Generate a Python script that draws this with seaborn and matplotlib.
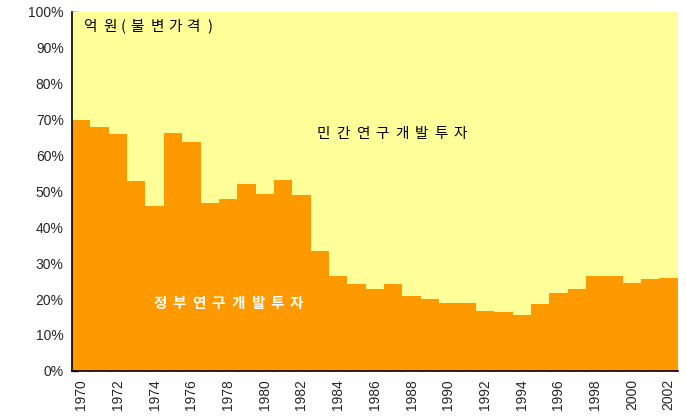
import pandas as pd
import seaborn as sns
import matplotlib.pyplot as plt
from matplotlib.ticker import FixedLocator

# Data (share of government R&D investment, %)
years = list(range(1970, 2003))
gov_share = [69.9, 67.9, 66.0, 52.9, 46.0, 66.2, 63.8, 46.7, 47.8, 52.0,
             49.2, 53.1, 48.9, 33.3, 26.5, 24.2, 22.8, 24.2, 20.9, 20.0,
             18.9, 18.9, 16.7, 16.3, 15.5, 18.7, 21.7, 22.8, 26.5, 26.5,
             24.5, 25.5, 25.9]
private_share = [round(100 - g, 1) for g in gov_share]

df = pd.DataFrame({"year": [str(y) for y in years],
                   "gov": gov_share,
                   "private": private_share})
df["total"] = df["gov"] + df["private"]

sns.set_style("white")
plt.rcParams["font.family"] = ["Liberation Sans", "Noto Sans CJK KR", "DejaVu Sans"]

fig = plt.figure(figsize=(6.86, 4.2), dpi=100)
ax = fig.add_axes([0.105, 0.117, 0.883, 0.855])

# stacked: private on top of government -> draw total then government
sns.barplot(data=df, x="year", y="total", color="#FFFF99", width=1.0,
            saturation=1, edgecolor="none", linewidth=0, ax=ax)
sns.barplot(data=df, x="year", y="gov", color="#FF9900", width=1.0,
            saturation=1, edgecolor="none", linewidth=0, ax=ax)

ax.set_xlim(-0.5, len(years) - 0.5)
ax.set_ylim(0, 100)
ax.set_xlabel("")
ax.set_ylabel("")

# y axis
ax.set_yticks(range(0, 101, 10))
ax.set_yticklabels([f"{v}%" for v in range(0, 101, 10)], fontsize=10)

# x axis: labels on even years, ticks at every bar boundary
label_pos = [i for i, y in enumerate(years) if y % 2 == 0]
ax.set_xticks(label_pos)
ax.set_xticklabels([str(years[i]) for i in label_pos], rotation=90, fontsize=10)
ax.xaxis.set_minor_locator(FixedLocator([i + 0.5 for i in range(len(years) - 1)]))
ax.tick_params(axis="x", which="major", length=0, pad=6)
ax.tick_params(axis="x", which="minor", direction="in", length=4, width=1, color="black", bottom=True)
ax.tick_params(axis="y", direction="in", length=4, width=1, color="black", left=True, pad=6)

for s in ["top", "right"]:
    ax.spines[s].set_visible(False)
for s in ["left", "bottom"]:
    ax.spines[s].set_color("black")
    ax.spines[s].set_linewidth(1.2)

kr = ["Noto Sans CJK KR", "DejaVu Sans"]


def spaced_text(s, cx, cy, pitch, **kw):
    # draw characters one by one with wide letter spacing
    n = len(s)
    x0 = cx - pitch * (n - 1) / 2
    for i, ch in enumerate(s):
        ax.text(x0 + i * pitch, cy, ch, transform=ax.transAxes, family=kr,
                ha="center", va="center", **kw)


# unit note, glyphs placed like the original (narrow parentheses)
unit_chars = "억원(불변가격)"
unit_x = [0.030, 0.063, 0.084, 0.107, 0.140, 0.170, 0.200, 0.228]
for ch, x in zip(unit_chars, unit_x):
    ax.text(x, 0.958, ch, transform=ax.transAxes, family=kr, fontsize=10.5,
            ha="center", va="center", color="black")

spaced_text("민간연구개발투자", 0.528, 0.66, 0.0323, fontsize=10.5,
            fontweight="medium", color="black")
spaced_text("정부연구개발투자", 0.258, 0.19, 0.0323, fontsize=10.5,
            fontweight="bold", color="white")

fig.savefig("out.png", dpi=100)
